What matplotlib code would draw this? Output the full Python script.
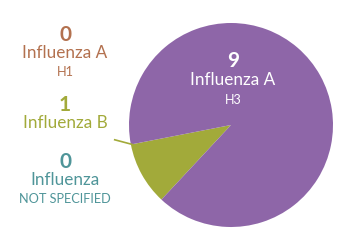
import matplotlib.pyplot as plt

# Data
labels = ["Influenza B", "Influenza A H3"]
counts = [1, 9]
colors = ["#A2AA3A", "#8E66A8"]

side_counts = ["0", "1", "0"]
side_names = ["Influenza A", "Influenza B", "Influenza"]
side_subs = ["H1", "", "NOT SPECIFIED"]
side_colors = ["#B3714F", "#A2AA3A", "#4F9599"]

plt.rcParams["font.family"] = ["Lato", "DejaVu Sans"]

fig = plt.figure(figsize=(3.5, 2.5), dpi=100)

# pie axes placed in pixel coordinates: center ~(231,125), radius ~101
ax = fig.add_axes([(231 - 102) / 350, (250 - 125 - 102) / 250, 204 / 350, 204 / 250])
ax.pie(counts, colors=colors, startangle=191, counterclock=True,
       radius=1.0, wedgeprops=dict(linewidth=0))
ax.set_xlim(-1, 1)
ax.set_ylim(-1, 1)
ax.set_aspect("equal")
ax.axis("off")

# leader line from the green wedge
ax.plot([-0.97, -1.14], [-0.19, -0.145], color=colors[0], lw=1.2, clip_on=False)

# label inside purple slice
ax.text(0.02, 0.63, str(counts[1]), color="white", ha="center", va="center",
        fontsize=15, fontweight="bold")
ax.text(0.02, 0.44, "Influenza A", color="white", ha="center", va="center",
        fontsize=12.3)
ax.text(0.02, 0.25, "H3", color="white", ha="center", va="center", fontsize=9)

# side labels in figure pixel coordinates
tops = [35, 105, 162]
for y, c, n, s, col in zip(tops, side_counts, side_names, side_subs, side_colors):
    fig.text(65 / 350, 1 - y / 250, c, color=col, ha="center", va="center",
             fontsize=15, fontweight="bold")
    fig.text(65 / 350, 1 - (y + 18) / 250, n, color=col, ha="center",
             va="center", fontsize=12.3)
    if s:
        fig.text(65 / 350, 1 - (y + 37) / 250, s, color=col, ha="center",
                 va="center", fontsize=9.2)

fig.savefig("out.png", dpi=100)
